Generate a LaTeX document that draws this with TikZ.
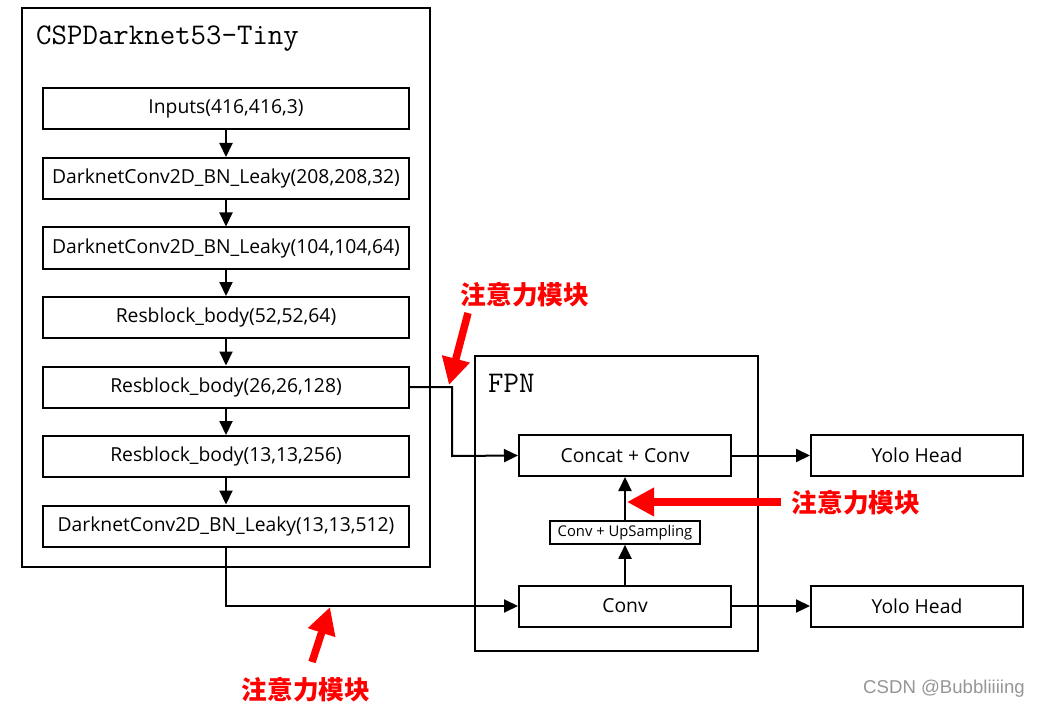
\documentclass[tikz,border=0pt]{standalone}
\usepackage{fontspec}
\setmainfont{Open Sans}
\newfontfamily\cjkfont{Noto Sans CJK SC}
\newfontfamily\wmfont{Liberation Sans}
\usetikzlibrary{arrows.meta}
\definecolor{wmgray}{RGB}{150,150,150}
\begin{document}
\begin{tikzpicture}[x=1pt,y=-1pt,
  blk/.style={draw=black, line width=2pt, minimum width=366pt, minimum height=41pt, inner sep=0pt, font=\fontsize{19.3}{21}\selectfont},
  fblk/.style={draw=black, line width=2pt, minimum width=212pt, minimum height=41pt, inner sep=0pt, font=\fontsize{19.3}{21}\selectfont},
  sblk/.style={draw=black, line width=1.6pt, minimum width=150pt, minimum height=23pt, inner sep=0pt, font=\fontsize{14.8}{16}\selectfont},
  frame/.style={draw=black, line width=1.3pt},
  conn/.style={line width=2pt, -{Triangle[length=14pt,width=13pt]}},
  redarrow/.style={draw=red, line width=7.5pt, -{Triangle[length=27pt,width=27pt]}},
  redlabel/.style={text=red, font=\cjkfont\bfseries\fontsize{25.7}{27}\selectfont, inner sep=0pt},
  titletxt/.style={font=\ttfamily\fontsize{30}{31}\selectfont, inner sep=0pt, anchor=base west}
]
\useasboundingbox (0,0) rectangle (1056,711);
\fill[white] (0,0) rectangle (1056,711);

% outer frames
\draw[frame] (22,8) rectangle (430,567);
\draw[frame] (475,356) rectangle (758,651);
\node[titletxt] (title) at (36,45) {CSPDarknet53-Tiny};
\node[titletxt] (fpn) at (488,392) {FPN};

% backbone
\node[blk] (b1) at (226,108.5) {Inputs(416,416,3)};
\node[blk] (b2) at (226,178.5) {DarknetConv2D\_BN\_Leaky(208,208,32)};
\node[blk] (b3) at (226,248) {DarknetConv2D\_BN\_Leaky(104,104,64)};
\node[blk] (b4) at (226,317.5) {Resblock\_body(52,52,64)};
\node[blk] (b5) at (226,387) {Resblock\_body(26,26,128)};
\node[blk] (b6) at (226,456.5) {Resblock\_body(13,13,256)};
\node[blk] (b7) at (226,526) {DarknetConv2D\_BN\_Leaky(13,13,512)};

\draw[conn] (b1) -- (b2);
\draw[conn] (b2) -- (b3);
\draw[conn] (b3) -- (b4);
\draw[conn] (b4) -- (b5);
\draw[conn] (b5) -- (b6);
\draw[conn] (b6) -- (b7);

% FPN
\node[fblk] (cc) at (625,455.5) {Concat + Conv};
\node[sblk] (up) at (625,532.5) {Conv + UpSampling};
\node[fblk] (cv) at (625,606) {Conv};
\node[fblk] (y1) at (917,455.5) {Yolo Head};
\node[fblk] (y2) at (917,606) {Yolo Head};

\draw[conn] (cv) -- (up);
\draw[conn] (up) -- (cc);
\draw[conn] (cc) -- (y1);
\draw[conn] (cv) -- (y2);

\coordinate (k1) at (452,387);
\coordinate (k2) at (452,456);
\draw[conn] (b5.east) -- (k1) -- (k2) -- (cc.west);
\coordinate (k3) at (226,606);
\draw[conn] (b7.south) -- (k3) -- (cv.west);

% red attention markers
\coordinate (r1s) at (468,313);
\coordinate (r1e) at (449,385);
\draw[redarrow] (r1s) -- (r1e);
\node[redlabel] (l1) at (525,295) {注意力模块};

\coordinate (r2s) at (781,502);
\coordinate (r2e) at (627,502);
\draw[redarrow] (r2s) -- (r2e);
\node[redlabel] (l2) at (856,503) {注意力模块};

\coordinate (r3s) at (312,662);
\coordinate (r3e) at (330,607);
\draw[redarrow] (r3s) -- (r3e);
\node[redlabel] (l3) at (306,690) {注意力模块};

% watermark
\node[text=wmgray, font=\wmfont\fontsize{18.6}{20}\selectfont, inner sep=0pt] (wm) at (944,689) {CSDN @Bubbliiiing};
\end{tikzpicture}
\end{document}
